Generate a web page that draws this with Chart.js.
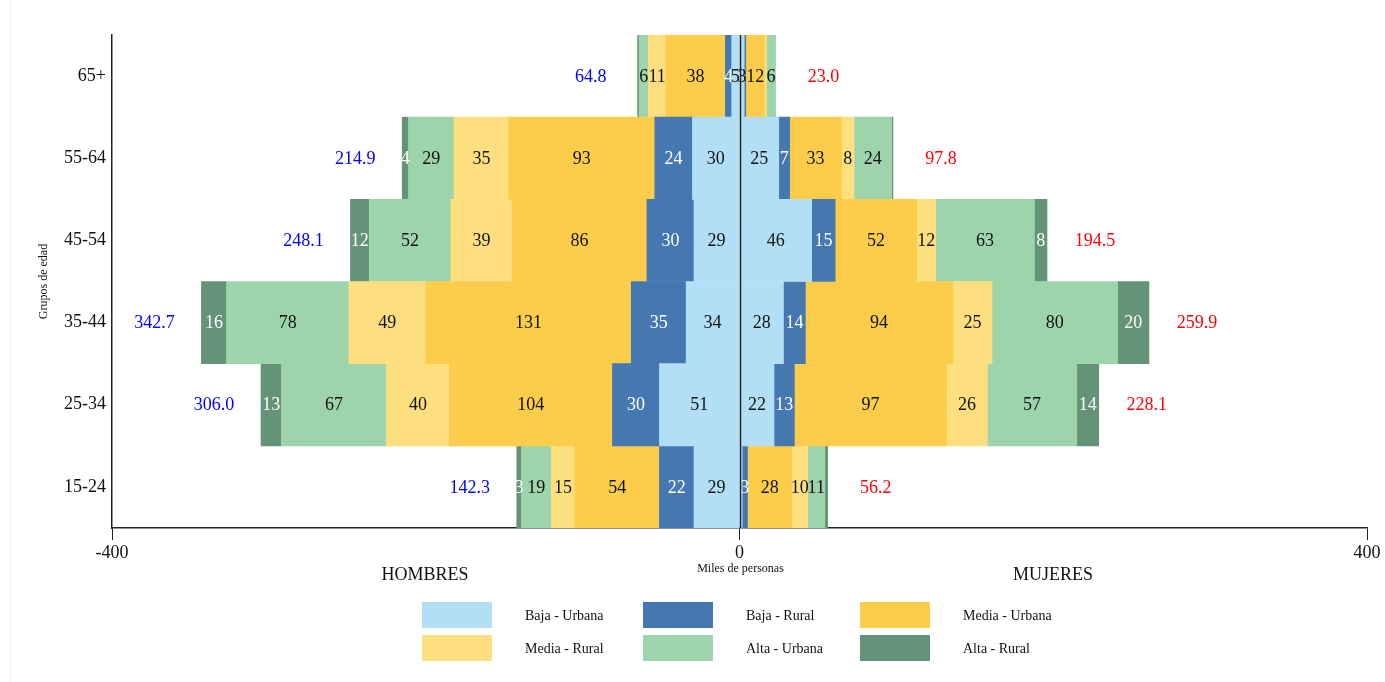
<!DOCTYPE html>
<html>
<head>
<meta charset="utf-8">
<script src="https://cdn.jsdelivr.net/npm/chart.js@4"></script>
<style>
  body { margin: 0; background: #fff; }
  #wrap { width: 1385px; height: 682px; position: relative; }
</style>
</head>
<body>
<div id="wrap"><canvas id="pyramid"></canvas></div>
<script>
// age groups, top to bottom
const ageGroups = ['65+', '55-64', '45-54', '35-44', '25-34', '15-24'];
const seriesNames = ['Baja - Urbana', 'Baja - Rural', 'Media - Urbana', 'Media - Rural', 'Alta - Urbana', 'Alta - Rural'];
const seriesColors = ['#B2DFF5', '#4578B1', '#FCCD4A', '#FEDF80', '#9DD4AB', '#649377'];
const labelColors = ['#111', '#fff', '#111', '#111', '#111', '#fff'];

// hombres (miles), one array per series, same order as ageGroups
const menBajaUrbana  = [5, 30, 29, 34, 51, 29];
const menBajaRural   = [4, 24, 30, 35, 30, 22];
const menMediaUrbana = [38, 93, 86, 131, 104, 54];
const menMediaRural  = [11, 35, 39, 49, 40, 15];
const menAltaUrbana  = [6, 29, 52, 78, 67, 19];
const menAltaRural   = [0.8, 4, 12, 16, 13, 3];

// mujeres (miles)
const womenBajaUrbana  = [3, 25, 46, 28, 22, 1.7];
const womenBajaRural   = [1, 7, 15, 14, 13, 3.4];
const womenMediaUrbana = [12, 33, 52, 94, 97, 28.3];
const womenMediaRural  = [1.2, 8, 12, 25, 26, 10];
const womenAltaUrbana  = [5.8, 24, 63, 80, 57, 11];
const womenAltaRural   = [0, 0.8, 8, 20, 14, 1.8];

const menTotals   = ['64.8', '214.9', '248.1', '342.7', '306.0', '142.3'];
const womenTotals = ['23.0', '97.8', '194.5', '259.9', '228.1', '56.2'];

const menSeries = [menBajaUrbana, menBajaRural, menMediaUrbana, menMediaRural, menAltaUrbana, menAltaRural];
const womenSeries = [womenBajaUrbana, womenBajaRural, womenMediaUrbana, womenMediaRural, womenAltaUrbana, womenAltaRural];

const SERIF = '"Liberation Serif", "DejaVu Serif", serif';

const datasets = [];
menSeries.forEach((arr, i) => {
    datasets.push({
        label: seriesNames[i], sex: 'H', idx: i,
        data: arr.map(v => -v),
        backgroundColor: seriesColors[i], stack: 'p'
    });
});
womenSeries.forEach((arr, i) => {
    datasets.push({
        label: seriesNames[i], sex: 'M', idx: i,
        data: arr.slice(),
        backgroundColor: seriesColors[i], stack: 'p'
    });
});

// labels, totals, zero line, titles and legend
const decorPlugin = {
    id: 'decor',
    beforeDraw(chart) {
        const c = chart.ctx;
        c.save();
        c.strokeStyle = '#eeeeee';
        c.lineWidth = 1;
        c.beginPath();
        c.moveTo(10.5, 0);
        c.lineTo(10.5, chart.height);
        c.stroke();
        c.restore();
    },
    afterDatasetsDraw(chart) {
        const c = chart.ctx;
        const xs = chart.scales.x, ys = chart.scales.y;
        c.save();
        c.font = '18px ' + SERIF;
        c.textAlign = 'center';
        c.textBaseline = 'middle';
        chart.data.datasets.forEach((ds, di) => {
            const meta = chart.getDatasetMeta(di);
            meta.data.forEach((bar, j) => {
                const v = Math.abs(ds.data[j]);
                if (v < 2.5) return;
                c.fillStyle = labelColors[ds.idx];
                c.fillText(Math.round(v), (bar.x + bar.base) / 2, bar.y + 1);
            });
        });

        // totals beside each bar
        ageGroups.forEach((g, j) => {
            let m = 0, w = 0;
            menSeries.forEach(a => m += a[j]);
            womenSeries.forEach(a => w += a[j]);
            const y = ys.getPixelForValue(j) + 1;
            c.fillStyle = '#0000ff';
            c.fillText(menTotals[j], xs.getPixelForValue(-m) - 47, y);
            c.fillStyle = '#ff0000';
            c.fillText(womenTotals[j], xs.getPixelForValue(w) + 48, y);
        });

        // zero line
        const x0 = Math.round(xs.getPixelForValue(0)) + 0.5;
        c.strokeStyle = '#222';
        c.lineWidth = 1.5;
        c.beginPath();
        c.moveTo(x0, chart.chartArea.top);
        c.lineTo(x0, chart.chartArea.bottom);
        c.stroke();

        // axis titles
        c.fillStyle = '#111';
        c.font = '12px ' + SERIF;
        c.fillText('Miles de personas', x0, 569);
        c.font = '18px ' + SERIF;
        c.fillText('HOMBRES', 425, 575);
        c.fillText('MUJERES', 1053, 575);
        c.save();
        c.translate(44, (chart.chartArea.top + chart.chartArea.bottom) / 2);
        c.rotate(-Math.PI / 2);
        c.font = '12px ' + SERIF;
        c.fillText('Grupos de edad', 0, 0);
        c.restore();

        // legend, 3 columns x 2 rows
        const colX = [422, 643, 860];
        const rowY = [602, 635];
        c.font = '14px ' + SERIF;
        c.textAlign = 'left';
        seriesNames.forEach((name, i) => {
            const x = colX[i % 3], y = rowY[Math.floor(i / 3)];
            c.fillStyle = seriesColors[i];
            c.fillRect(x, y, 70, 26);
            c.fillStyle = '#111';
            c.fillText(name, x + 103, y + 14);
        });
        c.restore();
    }
};

new Chart(document.getElementById('pyramid'), {
    type: 'bar',
    data: { labels: ageGroups, datasets: datasets },
    options: {
        indexAxis: 'y',
        responsive: true,
        maintainAspectRatio: false,
        animation: false,
        layout: { padding: { top: 35, right: 18, left: 0, bottom: 0 } },
        datasets: { bar: { categoryPercentage: 1.0, barPercentage: 1.0, borderWidth: 0 } },
        plugins: { legend: { display: false }, tooltip: { enabled: false } },
        scales: {
            x: {
                stacked: true,
                min: -400, max: 400,
                ticks: { stepSize: 400, color: '#111', font: { family: SERIF, size: 18 }, padding: 2 },
                grid: { drawOnChartArea: false, tickLength: 12, color: '#222' },
                border: { color: '#222', width: 1.5 },
                afterFit(s) { s.height = 154; }
            },
            y: {
                stacked: true,
                ticks: { color: '#111', font: { family: SERIF, size: 18 }, padding: -2 },
                grid: { display: false },
                border: { color: '#222', width: 1.5 },
                afterFit(s) { s.width = 112; }
            }
        }
    },
    plugins: [decorPlugin]
});
</script>
</body>
</html>
